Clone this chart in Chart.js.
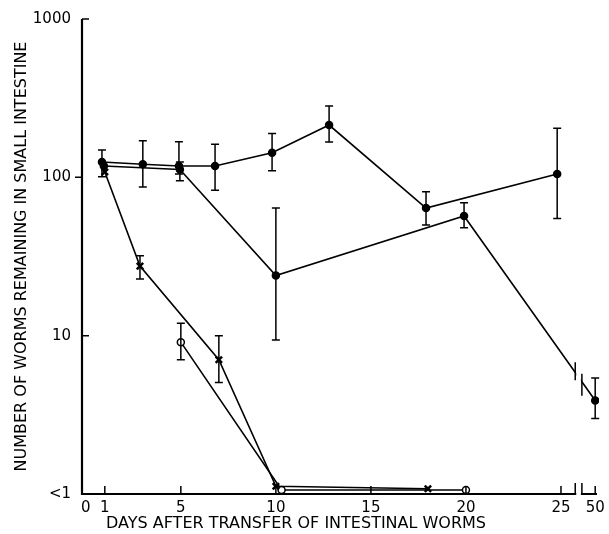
<!DOCTYPE html>
<html lang="en">
<head>
    <meta charset="UTF-8">
    <title>Worms remaining in small intestine</title>
    <script src="https://cdn.jsdelivr.net/npm/chart.js"></script>
    <style>
        body {
            margin: 0;
            padding: 0;
            background: #ffffff;
        }

        .chart-box {
            width: 609px;
            height: 534px;
        }
    </style>
</head>
<body>
    <div class="chart-box">
        <canvas id="wormChart"></canvas>
    </div>

    <script>
        // days after transfer (50 sits past the axis break)
        const seriesADays = [0.85, 3, 4.9, 6.8, 9.8, 12.8, 17.9, 24.8];
        const seriesAMean = [125, 121, 118, 118, 143, 214, 64, 105];
        const seriesALow  = [101, 87, 105, 83, 110, 167, 50, 55];
        const seriesAHigh = [149, 170, 168, 162, 189, 282, 81, 204];

        const seriesBDays = [0.95, 4.95, 10, 19.9, 50];
        const seriesBMean = [118, 112, 24, 57, 3.9];
        const seriesBLow  = [null, 95, 9.4, 48, 3.0];
        const seriesBHigh = [null, 125, 64, 69, 5.4];

        const seriesCDays = [1, 2.85, 7, 10, 18];
        const seriesCMean = [108, 27.5, 7.05, 1.12, 1.08];
        const seriesCLow  = [null, 22.8, 5.06, null, null];
        const seriesCHigh = [null, 32, 10, null, null];

        const seriesDDays = [5, 10.3, 20];
        const seriesDMean = [9.1, 1.06, 1.06];
        const seriesDLow  = [7.05, null, null];
        const seriesDHigh = [12, null, null];

        const xTickValues = [0, 1, 5, 10, 15, 20, 25, 50];
        const yTickValues = [1, 10, 100, 1000];
        const yTickLabels = ['<1', '10', '100', '1000'];

        const xTitle = 'DAYS AFTER TRANSFER OF INTESTINAL WORMS';
        const yTitle = 'NUMBER OF WORMS REMAINING IN SMALL INTESTINE';

        // the axis is broken after 25; day 50 is drawn here
        const breakDay = 26.8;
        const xPos = d => d > 30 ? breakDay : d;

        function makePoints(days, vals) {
            return days.map((d, i) => ({ x: xPos(d), y: vals[i] }));
        }

        const errorSets = [
            { days: seriesADays, low: seriesALow, high: seriesAHigh },
            { days: seriesBDays, low: seriesBLow, high: seriesBHigh },
            { days: seriesCDays, low: seriesCLow, high: seriesCHigh },
            { days: seriesDDays, low: seriesDLow, high: seriesDHigh }
        ];

        const extras = {
            id: 'extras',
            afterDatasetsDraw(chart) {
                const ctx = chart.ctx;
                const x = chart.scales.x;
                const y = chart.scales.y;
                const area = chart.chartArea;
                ctx.save();
                ctx.strokeStyle = '#000';

                // error bars
                ctx.lineWidth = 1.5;
                errorSets.forEach(s => {
                    s.days.forEach((d, i) => {
                        if (s.low[i] == null) return;
                        const px = x.getPixelForValue(xPos(d));
                        const top = y.getPixelForValue(s.high[i]);
                        const bot = y.getPixelForValue(s.low[i]);
                        ctx.beginPath();
                        ctx.moveTo(px, top); ctx.lineTo(px, bot);
                        ctx.moveTo(px - 4, top); ctx.lineTo(px + 4, top);
                        ctx.moveTo(px - 4, bot); ctx.lineTo(px + 4, bot);
                        ctx.stroke();
                    });
                });

                // axes
                ctx.lineWidth = 2.2;
                ctx.beginPath();
                ctx.moveTo(area.left, area.top);
                ctx.lineTo(area.left, area.bottom);
                ctx.lineTo(area.right - 2, area.bottom);
                ctx.stroke();

                // tick marks
                ctx.lineWidth = 1.5;
                ctx.beginPath();
                xTickValues.forEach(v => {
                    if (v === 0) return;
                    const px = x.getPixelForValue(xPos(v));
                    ctx.moveTo(px, area.bottom);
                    ctx.lineTo(px, area.bottom - 8);
                });
                yTickValues.forEach(v => {
                    if (v === 1) return;
                    const py = y.getPixelForValue(v);
                    ctx.moveTo(area.left, py);
                    ctx.lineTo(area.left + (v === 100 ? -7 : 7), py);
                });
                ctx.stroke();

                // axis break
                const b1 = x.getPixelForValue(25.75);
                const b2 = x.getPixelForValue(26.1);
                ctx.fillStyle = '#fff';
                ctx.fillRect(b1 + 1, area.bottom - 3, b2 - b1 - 2, 6);
                ctx.beginPath();
                ctx.moveTo(b1, area.bottom); ctx.lineTo(b1, area.bottom - 11);
                ctx.moveTo(b2, area.bottom); ctx.lineTo(b2, area.bottom - 11);
                ctx.stroke();

                // break on the line from day 20 to day 50
                const p0x = x.getPixelForValue(xPos(seriesBDays[3]));
                const p0y = y.getPixelForValue(seriesBMean[3]);
                const p1x = x.getPixelForValue(xPos(seriesBDays[4]));
                const p1y = y.getPixelForValue(seriesBMean[4]);
                const yAt = px => p0y + (px - p0x) * (p1y - p0y) / (p1x - p0x);
                ctx.fillRect(b1 + 1, yAt(b1) - 6, b2 - b1 - 2, yAt(b2) - yAt(b1) + 12);
                ctx.beginPath();
                ctx.moveTo(b1, yAt(b1) - 10); ctx.lineTo(b1, yAt(b1) + 8);
                ctx.moveTo(b2, yAt(b2) - 8); ctx.lineTo(b2, yAt(b2) + 14);
                ctx.stroke();

                // x axis title, sits left of the plot centre in the original
                ctx.fillStyle = '#000';
                ctx.font = '16px "DejaVu Sans"';
                ctx.textAlign = 'center';
                ctx.textBaseline = 'middle';
                ctx.fillText(xTitle, 296, 524);
                ctx.restore();
            }
        };

        const lineStyle = {
            borderColor: '#000',
            backgroundColor: '#000',
            borderWidth: 1.6,
            pointRadius: 3.5,
            pointBorderWidth: 1.5,
            pointBorderColor: '#000',
            tension: 0
        };

        new Chart(document.getElementById('wormChart').getContext('2d'), {
            type: 'line',
            data: {
                datasets: [
                    Object.assign({ label: 'A', data: makePoints(seriesADays, seriesAMean), pointStyle: 'circle' }, lineStyle),
                    Object.assign({ label: 'B', data: makePoints(seriesBDays, seriesBMean), pointStyle: 'circle' }, lineStyle),
                    Object.assign({ label: 'C', data: makePoints(seriesCDays, seriesCMean), pointStyle: 'crossRot' }, lineStyle, { pointRadius: 4.5, pointBorderWidth: 2.5 }),
                    Object.assign({ label: 'D', data: makePoints(seriesDDays, seriesDMean), pointStyle: 'circle' }, lineStyle, { backgroundColor: '#fff' })
                ]
            },
            options: {
                responsive: true,
                maintainAspectRatio: false,
                animation: false,
                layout: { padding: { top: 19, right: 10 } },
                plugins: {
                    legend: { display: false },
                    tooltip: { enabled: false }
                },
                scales: {
                    x: {
                        type: 'linear',
                        min: -0.2,
                        max: 27,
                        border: { display: false },
                        grid: { display: false },
                        afterBuildTicks: s => { s.ticks = xTickValues.map(v => ({ value: xPos(v) })); },
                        afterFit: s => { s.height = 40; },
                        ticks: {
                            autoSkip: false,
                            maxRotation: 0,
                            padding: -3,
                            color: '#000',
                            font: { family: 'DejaVu Sans', size: 15 },
                            callback: v => v === breakDay ? '50' : String(v)
                        }
                    },
                    y: {
                        type: 'logarithmic',
                        min: 1,
                        max: 1000,
                        border: { display: false },
                        grid: { display: false },
                        afterBuildTicks: s => { s.ticks = yTickValues.map(v => ({ value: v })); },
                        afterFit: s => { s.width = 82; },
                        ticks: {
                            padding: 3,
                            color: '#000',
                            font: { family: 'DejaVu Sans', size: 15 },
                            callback: v => yTickLabels[yTickValues.indexOf(v)]
                        },
                        title: {
                            display: true,
                            text: yTitle,
                            color: '#000',
                            font: { family: 'DejaVu Sans', size: 16 },
                            padding: { top: 12, bottom: 0 }
                        }
                    }
                }
            },
            plugins: [extras]
        });
    </script>
</body>
</html>
